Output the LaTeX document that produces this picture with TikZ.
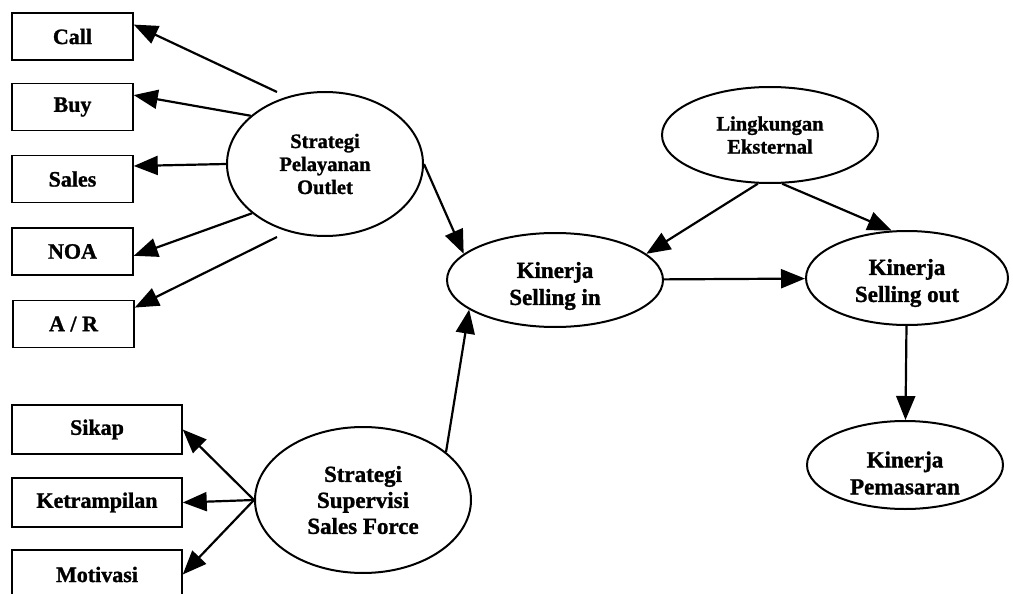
\documentclass[tikz,border=0pt]{standalone}
\usepackage{fontspec}
\setmainfont[BoldFeatures={FakeBold=1.2}]{Liberation Serif}
\usetikzlibrary{shapes.geometric,arrows.meta}

\tikzset{
  factor/.style={draw, line width=1.5pt, rectangle, inner sep=0pt,
    minimum width=121pt, minimum height=47pt,
    font=\fontsize{22}{24}\selectfont\bfseries},
  widefactor/.style={factor, minimum width=170pt, minimum height=49pt},
  construct/.style={draw, line width=2pt, ellipse, inner sep=0pt,
    align=center},
  caption/.style={inner sep=0pt, align=center},
  link/.style={line width=2.2pt, -{Triangle[length=24pt,width=19pt]}},
  smalltext/.style={font=\fontsize{20.5}{23}\selectfont\bfseries},
  bigtext/.style={font=\fontsize{23}{26}\selectfont\bfseries},
  perftext/.style={font=\fontsize{23}{27}\selectfont\bfseries},
}

\begin{document}
\begin{tikzpicture}[x=1pt, y=-1pt]
\useasboundingbox (0,0) rectangle (1013,594);

% indicator boxes
\node[factor] (call)  at (72.5,36.5) {Call};
\node[factor] (buy)   at (72.5,107)  {Buy};
\node[factor] (sales) at (72.5,179)  {Sales};
\node[factor] (noa)   at (72.5,251.5) {NOA};
\node[factor] (ar)    at (73.5,324)  {A / R};

\node[widefactor] (sikap) at (97,429.5) {Sikap};
\node[widefactor] (ketr)  at (97,502.5) {Ketrampilan};
\node[widefactor] (motiv) at (97,574.5) {Motivasi};

% latent constructs
\node[construct, smalltext, minimum width=196pt, minimum height=144pt]
  (spo) at (325,164) {Strategi\\Pelayanan\\Outlet};
\node[construct, bigtext, minimum width=216pt, minimum height=146pt]
  (spv) at (363,500) {Strategi\\Supervisi\\Sales Force};
\node[construct, smalltext, minimum width=216pt, minimum height=96pt]
  (env) at (770,135) {Lingkungan\\Eksternal};

% performance constructs, captions set a little below centre
\node[construct, minimum width=216pt, minimum height=94pt] (sin) at (555,280) {};
\node[caption, perftext] (sinlabel) at (555,286) {Kinerja\\Selling in};
\node[construct, minimum width=202pt, minimum height=94pt] (sout) at (907,278) {};
\node[caption, perftext] (soutlabel) at (907,283) {Kinerja\\Selling out};
\node[construct, minimum width=196pt, minimum height=88pt] (pem) at (905,465) {};
\node[caption, perftext] (pemlabel) at (905,473) {Kinerja\\Pemasaran};

% free ends of the outer indicator lines
\coordinate (callfrom) at (277,92);
\coordinate (arfrom)   at (277,237);

% outlet service strategy indicators
\draw[link] (callfrom) -- (call.11);
\draw[link] (spo.147) -- (buy.11);
\draw[link] (spo.west) -- (sales.12);
\draw[link] (spo.214) -- (noa.356);
\draw[link] (arfrom) -- (ar.15);

% sales force supervision indicators
\draw[link] (spv.west) -- (sikap.east);
\draw[link] (spv.west) -- (ketr.east);
\draw[link] (spv.west) -- (motiv.east);

% structural paths
\draw[link] (spo.east) -- (sin.164);
\draw[link] (spv.30) -- (sin.199);
\draw[link] (env.256) -- (sin.16);
\draw[link] (env.284) -- (sout.108);
\draw[link] (sin) -- (sout);
\draw[link] (sout) -- (pem);
\end{tikzpicture}
\end{document}
